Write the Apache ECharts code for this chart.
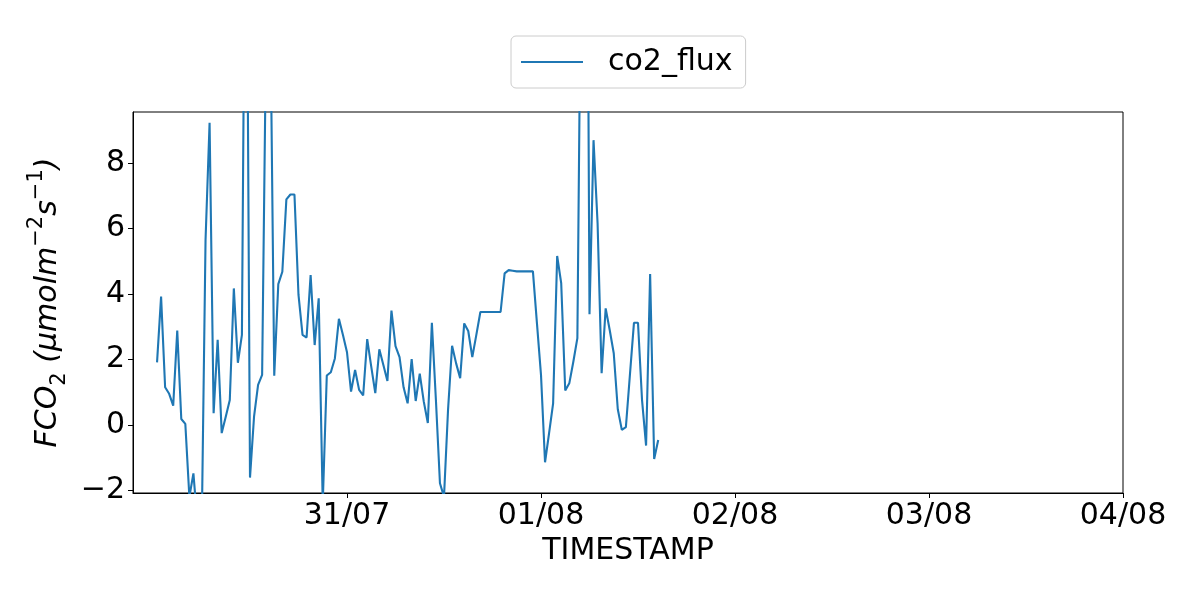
<!DOCTYPE html>
<html>
<head>
<meta charset="utf-8">
<script src="https://cdn.jsdelivr.net/npm/echarts@6/dist/echarts.min.js"></script>
<style>html,body{margin:0;padding:0;background:#fff;}#c{width:1200px;height:600px;}</style>
</head>
<body>
<div id="c"></div>
<script>
// Half-hourly timestamps, expressed as hours since 30/07 00:00 (first reading 30/07 00:30)
const startHour = 0.5;
const stepHours = 0.5;
const co2Flux = [
  1.91, 3.92, 1.15, 0.95, 0.59, 2.88, 0.18, 0.03, -2.2, -1.48,
  -3.0, -3.7, 5.65, 9.23, 0.36, 2.6, -0.25, 0.25, 0.76, 4.17,
  1.9, 2.75, 20, -1.61, 0.25, 1.22, 1.53, 12.2, 13.0, 1.5,
  4.3, 4.68, 6.89, 7.04, 7.04, 3.97, 2.75, 2.67, 4.58, 2.44,
  3.87, -2.4, 1.51, 1.61, 2.03, 3.24, 2.75, 2.22, 1.02, 1.68,
  1.07, 0.90, 2.62, 1.78, 0.97, 2.31, 1.83, 1.34, 3.49, 2.41,
  2.07, 1.15, 0.66, 2.01, 0.73, 1.57, 0.71, 0.06, 3.12, 0.76,
  -1.78, -2.2, 0.46, 2.42, 1.88, 1.43, 3.10, 2.87, 2.07, 2.75,
  3.45, 3.45, 3.45, 3.45, 3.45, 3.45, 4.63, 4.73, 4.71, 4.69,
  4.69, 4.69, 4.69, 4.69, 3.1, 1.53, -1.14, -0.25, 0.66, 5.16,
  4.33, 1.05, 1.27, 1.93, 2.65, 16, 28, 3.38, 8.70, 6.16,
  1.58, 3.56, 2.90, 2.19, 0.48, -0.15, -0.07, 1.53, 3.12, 3.12,
  0.76, -0.63, 4.61, -1.04, -0.46
];
const xTickHours = [24, 48, 72, 96, 120];
const xTickLabels = ['31/07', '01/08', '02/08', '03/08', '04/08'];
const yTicks = [-2, 0, 2, 4, 6, 8];
const xMin = -2.474, xMax = 120;
const yMin = -2.08, yMax = 9.56;

const seriesData = co2Flux.map((v, i) => [startHour + i * stepHours, v]);

const FONT = 'DejaVu Sans';
const chart = echarts.init(document.getElementById('c'), null, {renderer: 'canvas'});
chart.setOption({
  animation: false,
  backgroundColor: '#ffffff',
  grid: {left: 133, right: 77, top: 112, bottom: 107, show: true, borderColor: '#000', borderWidth: 1, backgroundColor: 'transparent'},
  legend: {
    left: 511, top: 36,
    padding: [11, 13, 11, 10],
    borderColor: '#cccccc', borderWidth: 1, borderRadius: 5,
    itemWidth: 62, itemHeight: 2,
    textStyle: {fontSize: 30, fontFamily: FONT, color: '#000', padding: [0, 0, 0, 20]},
    data: [{name: 'co2_flux', icon: 'rect'}]
  },
  xAxis: {
    type: 'value', min: xMin, max: xMax,
    name: 'TIMESTAMP', nameLocation: 'middle', nameGap: 42,
    nameTextStyle: {fontSize: 30, fontFamily: FONT, color: '#000'},
    axisLine: {show: true, onZero: false, lineStyle: {color: '#000', width: 1}},
    axisTick: {show: true, length: 5, inside: false, customValues: xTickHours, lineStyle: {color: '#000', width: 1}},
    axisLabel: {fontSize: 30, fontFamily: FONT, color: '#000', margin: 8, customValues: xTickHours,
      formatter: v => { const k = xTickHours.indexOf(v); return k >= 0 ? xTickLabels[k] : ''; }},
    splitLine: {show: false}
  },
  yAxis: {
    type: 'value', min: yMin, max: yMax,
    name: '{i|FCO}{sb|2}{i| (μmolm}{sp|−2}{i|s}{sp|−1}{i|)}',
    nameLocation: 'middle', nameRotate: 90, nameGap: 54,
    nameTextStyle: {
      rich: {
        i: {fontSize: 30, fontStyle: 'italic', fontFamily: FONT, color: '#000', lineHeight: 44, verticalAlign: 'middle'},
        sb: {fontSize: 21, fontFamily: FONT, color: '#000', verticalAlign: 'bottom'},
        sp: {fontSize: 21, fontFamily: FONT, color: '#000', verticalAlign: 'top'}
      }
    },
    axisLine: {show: true, onZero: false, lineStyle: {color: '#000', width: 1}},
    axisTick: {show: true, length: 5, inside: false, customValues: yTicks, lineStyle: {color: '#000', width: 1}},
    axisLabel: {fontSize: 30, fontFamily: FONT, color: '#000', margin: 8, customValues: yTicks,
      formatter: v => String(v).replace('-', '\u2212')},
    splitLine: {show: false}
  },
  series: [{
    name: 'co2_flux', type: 'line', data: seriesData,
    showSymbol: false, symbol: 'none', clip: true,
    lineStyle: {color: '#1f77b4', width: 2.1},
    itemStyle: {color: '#1f77b4'}
  }]
});
</script>
</body>
</html>
